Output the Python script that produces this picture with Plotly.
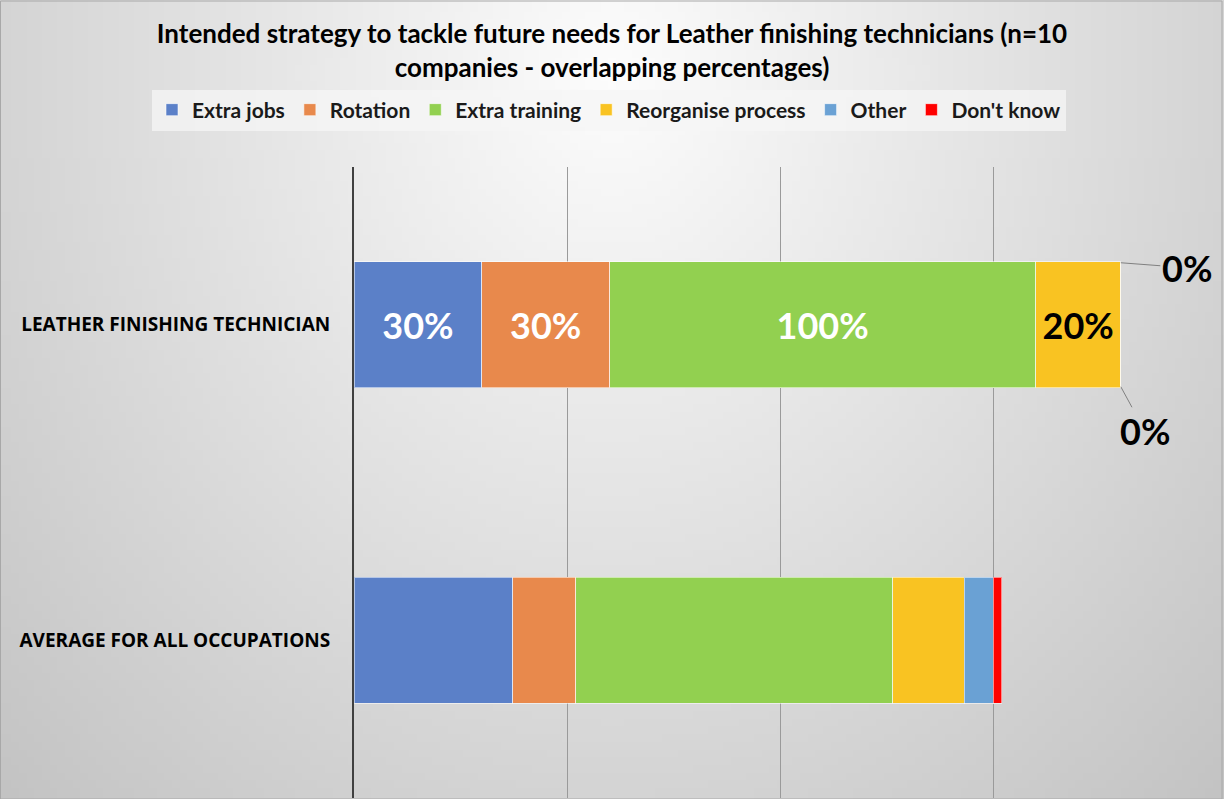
import base64
import struct
import zlib

import numpy as np
import plotly.graph_objects as go

# chart values (percent of companies, overlapping)
categories = ["LEATHER FINISHING TECHNICIAN", "AVERAGE FOR ALL OCCUPATIONS"]
series_names = ["Extra jobs", "Rotation", "Extra training", "Reorganise process", "Other", "Don't know"]
extra_jobs = [30, 37.3]
rotation = [30, 14.8]
extra_training = [100, 74.4]
reorganise_process = [20, 16.7]
other = [0, 6.8]
dont_know = [0, 2.1]
show_labels = [True, False]

colors = ["#5b80c8", "#e8894c", "#92d050", "#f9c322", "#6aa1d4", "#ff0000"]
label_colors = ["white", "white", "white", "black", "black", "black"]

W, H = 1224, 799
ML, MR, MT, MB = 354, 18, 167, 1
PW, PH = W - ML - MR, H - MT - MB


def gradient_png(w=160, h=104):
    # soft radial background, light at the top centre, grey towards the edges
    ys, xs = np.mgrid[0:h, 0:w]
    x = xs / (w - 1) * W
    y = ys / (h - 1) * H
    r = np.sqrt(((x - 612) / 700) ** 2 + ((y - 70) / 820) ** 2)
    v = np.clip(253 - 46 * r, 185, 253).astype(np.uint8)
    rgb = np.stack([v, v, v], axis=-1)
    raw = b"".join(b"\x00" + rgb[i].tobytes() for i in range(h))

    def chunk(tag, data):
        c = struct.pack(">I", len(data)) + tag + data
        return c + struct.pack(">I", zlib.crc32(tag + data) & 0xFFFFFFFF)

    png = b"\x89PNG\r\n\x1a\n"
    png += chunk(b"IHDR", struct.pack(">IIBBBBB", w, h, 8, 2, 0, 0, 0))
    png += chunk(b"IDAT", zlib.compress(raw, 9))
    png += chunk(b"IEND", b"")
    return "data:image/png;base64," + base64.b64encode(png).decode()


series_values = [extra_jobs, rotation, extra_training, reorganise_process, other, dont_know]

fig = go.Figure()
for name, vals, col, lcol in zip(series_names, series_values, colors, label_colors):
    texts = [f"{v:.0f}%" if (lab and v > 0) else "" for v, lab in zip(vals, show_labels)]
    fig.add_trace(go.Bar(
        y=categories, x=vals, name=name, orientation="h", legendgroup=name,
        marker=dict(color=col, line=dict(color="rgba(255,255,255,0.55)", width=1)),
        text=texts, textposition="inside", insidetextanchor="middle",
        textfont=dict(family="Lato", size=36, color=lcol, weight="bold"),
        constraintext="none", cliponaxis=False,
    ))

# zero-value labels for the first category, with leader lines
cum = 0
zero_pos = 0
for name, vals in zip(series_names, series_values):
    v = vals[0]
    if v == 0:
        top = zero_pos % 2 == 0
        fig.add_annotation(
            x=cum, y=categories[0], yshift=62 if top else -62,
            text=f"{v:.0f}%", showarrow=True, arrowhead=0, arrowwidth=1,
            arrowcolor="#808080", ax=66 if top else 24, ay=5 if top else 44,
            font=dict(family="Lato", size=36, color="black", weight="bold"),
        )
        zero_pos += 1
    cum += v

fig.add_layout_image(
    source=gradient_png(), xref="paper", yref="paper",
    x=-ML / PW, y=1 + MT / PH, sizex=W / PW, sizey=H / PH,
    xanchor="left", yanchor="top", sizing="stretch", layer="below",
)

fig.update_layout(
    width=W, height=H,
    margin=dict(l=ML, r=MR, t=MT, b=MB, autoexpand=False),
    barmode="stack", bargap=0.6,
    paper_bgcolor="#dcdcdc", plot_bgcolor="rgba(0,0,0,0)",
    title=dict(
        text="Intended strategy to tackle future needs for Leather finishing technicians (n=10<br>companies - overlapping percentages)",
        x=0.5, xref="container", xanchor="center", y=1 - 43 / H, yref="container", yanchor="middle",
        font=dict(family="Lato", size=26, color="black", weight="bold"),
    ),
    legend=dict(
        orientation="h", x=(152 - ML) / PW, xref="paper", xanchor="left",
        y=1 + (MT - 110) / PH, yref="paper", yanchor="middle",
        bgcolor="rgba(245,245,245,0.75)", traceorder="grouped", tracegroupgap=20,
        font=dict(family="Lato", size=21, color="#1a1a1a", weight="bold"),
        itemwidth=30, entrywidth=0,
    ),
    xaxis=dict(
        range=[0, 200], dtick=50, showticklabels=False, showgrid=True, automargin=False,
        gridcolor="#9a9a9a", gridwidth=1, zeroline=False, showline=False, fixedrange=True,
    ),
    yaxis=dict(
        autorange="reversed", showline=True, linecolor="#404040", linewidth=2,
        ticks="", ticklabelstandoff=18, automargin=False,
        tickfont=dict(family="Open Sans", size=19, color="black", weight="bold"),
    ),
    shapes=[dict(type="rect", xref="paper", yref="paper",
                 x0=-ML / PW + 0.0006, x1=1 + (MR - 2) / PW,
                 y0=-MB / PH, y1=1 + (MT - 1) / PH,
                 line=dict(color="#a8a8a8", width=1), layer="above")],
)

# drop the default page margin so the figure sits at the window corner
fig.write_html("out.html", config={"displayModeBar": False},
               post_script="document.body.style.margin='0';")
